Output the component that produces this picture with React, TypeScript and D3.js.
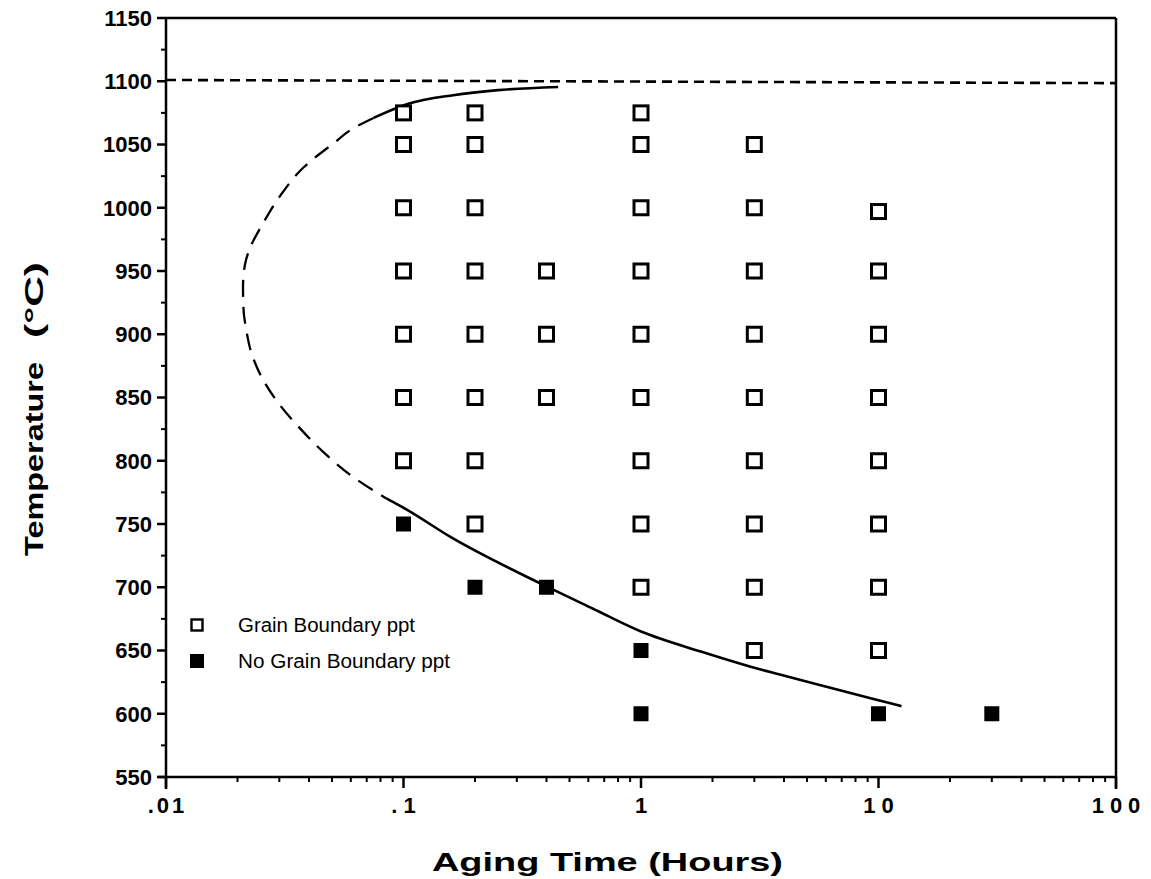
import React from "react";
import * as d3 from "d3";

// ---- data ----
const openT = [0.1, 0.1, 0.1, 0.1, 0.1, 0.1, 0.1,
  0.2, 0.2, 0.2, 0.2, 0.2, 0.2, 0.2, 0.2,
  0.4, 0.4, 0.4,
  1, 1, 1, 1, 1, 1, 1, 1, 1,
  3, 3, 3, 3, 3, 3, 3, 3, 3,
  10, 10, 10, 10, 10, 10, 10, 10];
const openTemp = [1075, 1050, 1000, 950, 900, 850, 800,
  1075, 1050, 1000, 950, 900, 850, 800, 750,
  950, 900, 850,
  1075, 1050, 1000, 950, 900, 850, 800, 750, 700,
  1050, 1000, 950, 900, 850, 800, 750, 700, 650,
  997, 950, 900, 850, 800, 750, 700, 650];
const filledT = [0.1, 0.2, 0.4, 1, 1, 10, 30];
const filledTemp = [750, 700, 700, 650, 600, 600, 600];

const dashedCurveT = [0.0748, 0.0617, 0.0508, 0.038, 0.0304, 0.0255, 0.0228, 0.0215, 0.0211, 0.0212, 0.0218, 0.023, 0.0253, 0.0296, 0.0365, 0.0465, 0.0615, 0.085];
const dashedCurveTemp = [1071, 1063, 1051, 1032, 1010, 987, 970, 955, 938, 920, 903, 884, 866, 846, 826, 806, 787, 770];
const upperCurveT = [0.0748, 0.104, 0.162, 0.25, 0.448];
const upperCurveTemp = [1071, 1082, 1089, 1093, 1095.5];
const lowerCurveT = [0.085, 0.104, 0.157, 0.377, 0.628, 1.0, 1.8, 2.92, 3.84, 5.98, 9.35, 12.5];
const lowerCurveTemp = [770, 761, 740, 703, 683, 665, 649, 637, 631, 621.5, 612, 606];

const solvusT = [0.01, 100];
const solvusTemp = [1101, 1098.5];

const yTicks = [550, 600, 650, 700, 750, 800, 850, 900, 950, 1000, 1050, 1100, 1150];
const xTicks = [0.01, 0.1, 1, 10, 100];
const xTickLabels = [".01", ".1", "1", "10", "100"];
const legendLabels = ["Grain Boundary ppt", "No Grain Boundary ppt"];

const W = 1151, H = 879;
const L = 166, R = 1116, T = 18, B = 777;
const FONT = "'Liberation Sans', Arial, Helvetica, sans-serif";

export default function App() {
  const x = d3.scaleLog().domain([0.01, 100]).range([L, R]);
  const y = d3.scaleLinear().domain([550, 1150]).range([B, T]);
  const lineX = d3.line<[number, number]>()
    .x((d) => x(d[0])).y((d) => y(d[1]))
    .curve(d3.curveMonotoneX);
  const lineY = d3.line<[number, number]>()
    .x((d) => x(d[0])).y((d) => y(d[1]))
    .curve(d3.curveMonotoneY);
  const straight = d3.line<[number, number]>().x((d) => x(d[0])).y((d) => y(d[1]));
  const pts = (a: number[], b: number[]) => a.map((v, i) => [v, b[i]] as [number, number]);

  const minorY = d3.range(575, 1150, 50);
  const minorX: number[] = [];
  for (const dec of [0.01, 0.1, 1, 10]) for (let k = 2; k <= 9; k++) minorX.push(dec * k);

  const os = 14, fs = 15;
  return (
    <svg width={W} height={H} style={{ position: "absolute", left: 0, top: 0 }}>
      <rect width={W} height={H} fill="#fff" />
      {/* frame */}
      <line x1={L} y1={T} x2={R} y2={T} stroke="#000" strokeWidth={2.5} />
      <line x1={R} y1={T} x2={R} y2={B + 12} stroke="#000" strokeWidth={2.5} />
      <line x1={L} y1={T} x2={L} y2={B + 12} stroke="#000" strokeWidth={2.5} />
      <line x1={L - 8} y1={B} x2={R} y2={B} stroke="#000" strokeWidth={2.5} />
      {/* y ticks */}
      {yTicks.map((t) => (
        <g key={t}>
          <line x1={L - 9} x2={L} y1={y(t)} y2={y(t)} stroke="#000" strokeWidth={2.5} />
          <text x={L - 14} y={y(t)} dy="0.36em" textAnchor="end" fontFamily={FONT} fontWeight="bold" fontSize={22}>{t}</text>
        </g>
      ))}
      {minorY.map((t) => (
        <line key={t} x1={L - 5} x2={L} y1={y(t)} y2={y(t)} stroke="#000" strokeWidth={2} />
      ))}
      {/* x ticks */}
      {xTicks.map((t, i) => (
        <g key={t}>
          <line x1={x(t)} x2={x(t)} y1={B} y2={B + 11} stroke="#000" strokeWidth={2.5} />
          <text x={x(t) + (i === 0 ? 1.5 : 3)} y={B + 36} textAnchor="middle" fontFamily={FONT} fontWeight="bold" fontSize={22} letterSpacing={i === 0 ? 3 : 6}>{xTickLabels[i]}</text>
        </g>
      ))}
      {minorX.map((t) => (
        <line key={t} x1={x(t)} x2={x(t)} y1={B} y2={B + 5} stroke="#000" strokeWidth={2} />
      ))}
      {/* solvus dashed line */}
      <path d={straight(pts(solvusT, solvusTemp)) || ""}
        fill="none" stroke="#000" strokeWidth={2.6} strokeDasharray="10,6" />
      {/* C curve */}
      <path d={lineY(pts(dashedCurveT, dashedCurveTemp)) || ""} fill="none" stroke="#000" strokeWidth={2.3} strokeDasharray="17,10" />
      <path d={lineX(pts(upperCurveT, upperCurveTemp)) || ""} fill="none" stroke="#000" strokeWidth={2.6} />
      <path d={lineX(pts(lowerCurveT, lowerCurveTemp)) || ""} fill="none" stroke="#000" strokeWidth={2.6} />
      {/* markers */}
      {openT.map((t, i) => (
        <rect key={"o" + i} x={x(t) - os / 2} y={y(openTemp[i]) - os / 2} width={os} height={os}
          fill="#fff" stroke="#000" strokeWidth={3} />
      ))}
      {filledT.map((t, i) => (
        <rect key={"f" + i} x={x(t) - fs / 2} y={y(filledTemp[i]) - fs / 2} width={fs} height={fs} fill="#000" />
      ))}
      {/* legend */}
      <rect x={197 - 5.5} y={625 - 5.5} width={11} height={11} fill="#fff" stroke="#000" strokeWidth={2.4} />
      <rect x={197 - 7} y={661 - 7} width={14} height={14} fill="#000" />
      <text x={238} y={625} dy="0.35em" fontFamily={FONT} fontSize={20} textLength={177} lengthAdjust="spacingAndGlyphs">{legendLabels[0]}</text>
      <text x={238} y={661} dy="0.35em" fontFamily={FONT} fontSize={20} textLength={212} lengthAdjust="spacingAndGlyphs">{legendLabels[1]}</text>
      {/* axis titles */}
      <text x={432} y={871} fontFamily={FONT} fontWeight="bold" fontSize={26} textLength={351} lengthAdjust="spacingAndGlyphs">Aging Time (Hours)</text>
      <g transform="rotate(-90)">
        <text x={-556} y={43} fontFamily={FONT} fontWeight="bold" fontSize={26} textLength={194} lengthAdjust="spacingAndGlyphs">Temperature</text>
        <text x={-338} y={43} fontFamily={FONT} fontWeight="bold" fontSize={26} textLength={76} lengthAdjust="spacingAndGlyphs">(°C)</text>
      </g>
    </svg>
  );
}
